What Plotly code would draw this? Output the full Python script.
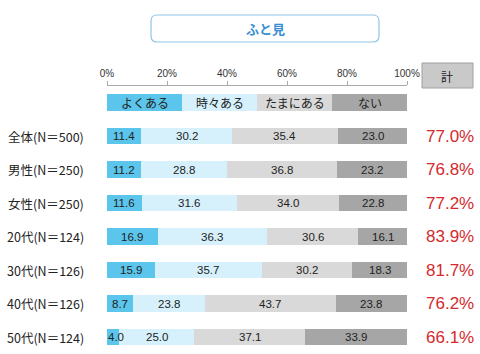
import plotly.graph_objects as go

categories = ["全体(N＝500)", "男性(N＝250)", "女性(N＝250)", "20代(N＝124)",
              "30代(N＝126)", "40代(N＝126)", "50代(N＝124)"]
series_names = ["よくある", "時々ある", "たまにある", "ない"]
legend_share = [25, 25, 25, 25]
yoku = [11.4, 11.2, 11.6, 16.9, 15.9, 8.7, 4.0]
tokidoki = [30.2, 28.8, 31.6, 36.3, 35.7, 23.8, 25.0]
tamani = [35.4, 36.8, 34.0, 30.6, 30.2, 43.7, 37.1]
nai = [23.0, 23.2, 22.8, 16.1, 18.3, 23.8, 33.9]
totals = ["77.0%", "76.8%", "77.2%", "83.9%", "81.7%", "76.2%", "66.1%"]
tick_vals = [0, 20, 40, 60, 80, 100]
tick_text = ["0%", "20%", "40%", "60%", "80%", "100%"]
title_text = "ふと見"
total_header = "計"

colors = ["#5cc5ec", "#d6f1fc", "#d9d9d9", "#a6a6a6"]
series = [yoku, tokidoki, tamani, nai]
ypos = list(range(len(categories)))
W, H = 480, 354

fig = go.Figure()
bar_w = 0.48
for i, name in enumerate(series_names):
    fig.add_trace(go.Bar(
        x=[legend_share[i]], y=[-1], orientation="h", width=bar_w,
        marker=dict(color=colors[i], line=dict(width=0)),
        textposition="none", showlegend=False, hoverinfo="skip"))
for i, vals in enumerate(series):
    fig.add_trace(go.Bar(
        x=vals, y=ypos, orientation="h", width=bar_w,
        marker=dict(color=colors[i], line=dict(width=0)),
        textposition="none", name=series_names[i], showlegend=False))

x0, x1 = 107 / W, 407 / W
row0, step = 136, 33.5
fig.update_layout(
    width=W, height=H, margin=dict(l=0, r=0, t=0, b=0, autoexpand=False),
    barmode="stack", paper_bgcolor="white", plot_bgcolor="white", bargap=0,
    xaxis=dict(domain=[x0, x1], range=[0, 100], side="top", anchor="free",
               position=(H - 85) / H, showline=True, linecolor="#aaaaaa", linewidth=1,
               ticks="outside", ticklen=4, tickcolor="#aaaaaa",
               tickvals=tick_vals, ticktext=tick_text, showgrid=False, zeroline=False,
               tickfont=dict(family="Liberation Sans, Arial", size=10, color="#333"),
               fixedrange=True),
    yaxis=dict(range=[(H - row0) / step, -row0 / step], visible=False,
               domain=[0, 1], fixedrange=True),
)

ann = []
# legend row labels
start = 0.0
for i, name in enumerate(series_names):
    ann.append(dict(x=start + legend_share[i] / 2, xref="x", y=-1, yref="y", text=name,
                    showarrow=False, xanchor="center", yanchor="middle",
                    font=dict(family="Noto Sans CJK JP", size=12, color="#222")))
    start += legend_share[i]
# value labels inside segments, positioned from the data
for r in range(len(categories)):
    start = 0.0
    for s in series:
        v = s[r]
        small = v < 6
        ann.append(dict(x=start if small else start + v / 2, xref="x", y=r, yref="y",
                        text=f"{v:.1f}", showarrow=False,
                        xanchor="left" if small else "center", yanchor="middle",
                        xshift=-1 if small else 0,
                        font=dict(family="Liberation Sans Narrow, Liberation Sans, Arial",
                                  size=11.5, color="#222")))
        start += v
for i, c in enumerate(categories):
    ann.append(dict(x=86 / W, xref="paper", y=i, yref="y", text=c, showarrow=False,
                    xanchor="right", yanchor="middle",
                    font=dict(family="Noto Sans CJK JP", size=12.5, color="#222")))
    ann.append(dict(x=476 / W, xref="paper", y=i, yref="y", text=totals[i], showarrow=False,
                    xanchor="right", yanchor="middle",
                    font=dict(family="Liberation Sans, Arial", size=17, color="#d42a2e")))
ann.append(dict(x=265 / W, xref="paper", y=1 - 29 / H, yref="paper", text=f"<b>{title_text}</b>",
                showarrow=False, xanchor="center", yanchor="middle",
                font=dict(family="Noto Sans CJK JP", size=13, color="#3a8fd2")))
ann.append(dict(x=447 / W, xref="paper", y=1 - 76 / H, yref="paper", text=total_header,
                showarrow=False, xanchor="center", yanchor="middle",
                font=dict(family="Noto Sans CJK JP", size=12, color="#222")))
fig.update_layout(annotations=ann)

def rr(xa, ya, xb, yb, r):
    px = lambda v: v / W
    py = lambda v: 1 - v / H
    return (f"M {px(xa+r)},{py(ya)} L {px(xb-r)},{py(ya)} Q {px(xb)},{py(ya)} {px(xb)},{py(ya+r)} "
            f"L {px(xb)},{py(yb-r)} Q {px(xb)},{py(yb)} {px(xb-r)},{py(yb)} "
            f"L {px(xa+r)},{py(yb)} Q {px(xa)},{py(yb)} {px(xa)},{py(yb-r)} "
            f"L {px(xa)},{py(ya+r)} Q {px(xa)},{py(ya)} {px(xa+r)},{py(ya)} Z")

fig.update_layout(shapes=[
    dict(type="path", xref="paper", yref="paper", path=rr(151, 15, 379, 42, 6),
         line=dict(color="#8fc6e6", width=1.2), fillcolor="white", layer="below"),
    dict(type="rect", xref="paper", yref="paper", x0=422 / W, x1=473 / W,
         y0=1 - 88 / H, y1=1 - 63 / H, line=dict(color="#a0a0a0", width=1),
         fillcolor="#c9c9c9", layer="below"),
])

fig.write_html("out.html")
